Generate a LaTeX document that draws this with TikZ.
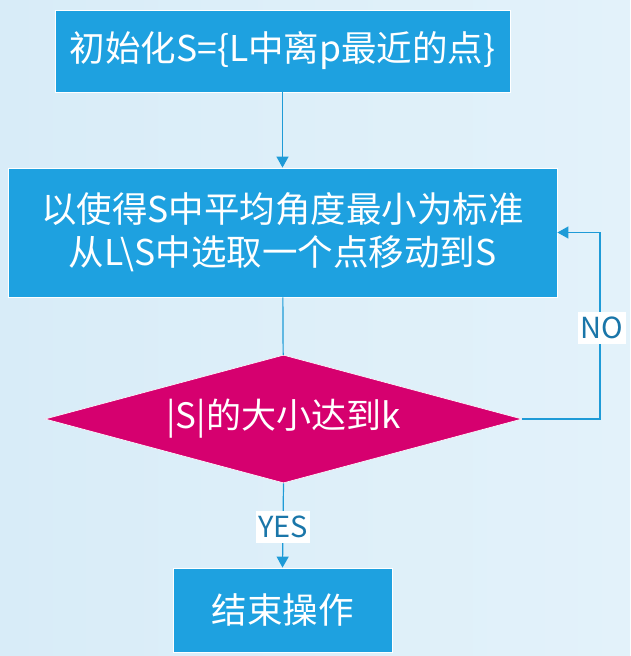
\documentclass[tikz,border=0pt]{standalone}
\usepackage{fontspec}
\setmainfont{Noto Sans CJK SC}
\usetikzlibrary{arrows.meta,shapes.geometric}
\definecolor{bgA}{HTML}{D8ECF8}
\definecolor{bgB}{HTML}{E3F2FA}
\definecolor{boxblue}{HTML}{1EA1E0}
\definecolor{magentaD}{HTML}{D6006F}
\definecolor{lineblue}{HTML}{1E9BD7}
\definecolor{lbltext}{HTML}{1A76A9}
\tikzset{
  procbox/.style={draw=white, line width=0.8pt, fill=boxblue, text=white, inner sep=0pt, font=\fontsize{35.5}{43}\selectfont, align=center},
  decbox/.style={shape=diamond, aspect=3.7, fill=magentaD, draw=white, line width=0.6pt, text=white, inner sep=0pt, font=\fontsize{35}{40}\selectfont},
  conn/.style={draw=lineblue, line width=1.2pt},
  arr/.style={conn, -{Triangle[width=12pt,length=11pt]}},
  lbl/.style={fill=white, text=lbltext, inner xsep=2.5pt, inner ysep=5pt, font=\fontsize{29}{32}\selectfont}
}
\begin{document}
\begin{tikzpicture}[x=1pt,y=-1pt]
\useasboundingbox (0,0) rectangle (630,656);
\shade[left color=bgA, right color=bgB] (0,0) rectangle (630,656);
\node[procbox, minimum width=455, minimum height=82] (b1) at (282.5,51) {初始化S=\{L中离p最近的点\}};
\node[procbox, minimum width=549, minimum height=129] (b2) at (282.5,232.5) {以使得S中平均角度最小为标准\\从L\textbackslash S中选取一个点移动到S};
\node[decbox, minimum width=477, minimum height=128] (d) at (283.5,419) {|S|的大小达到k};
\node[procbox, minimum width=219, minimum height=84] (b3) at (282.5,610) {结束操作};
\coordinate (nr) at (600,232.5);
\draw[arr] (b1) -- (b2);
\draw[conn] (b2) -- (d);
\draw[arr] (d.east) -| (nr) -- (b2.east);
\draw[arr] (d.south) -- (b3.north);
\node[lbl] (no) at (602,328) {NO};
\node[lbl] (yes) at (283,526.5) {YES};
\end{tikzpicture}
\end{document}
